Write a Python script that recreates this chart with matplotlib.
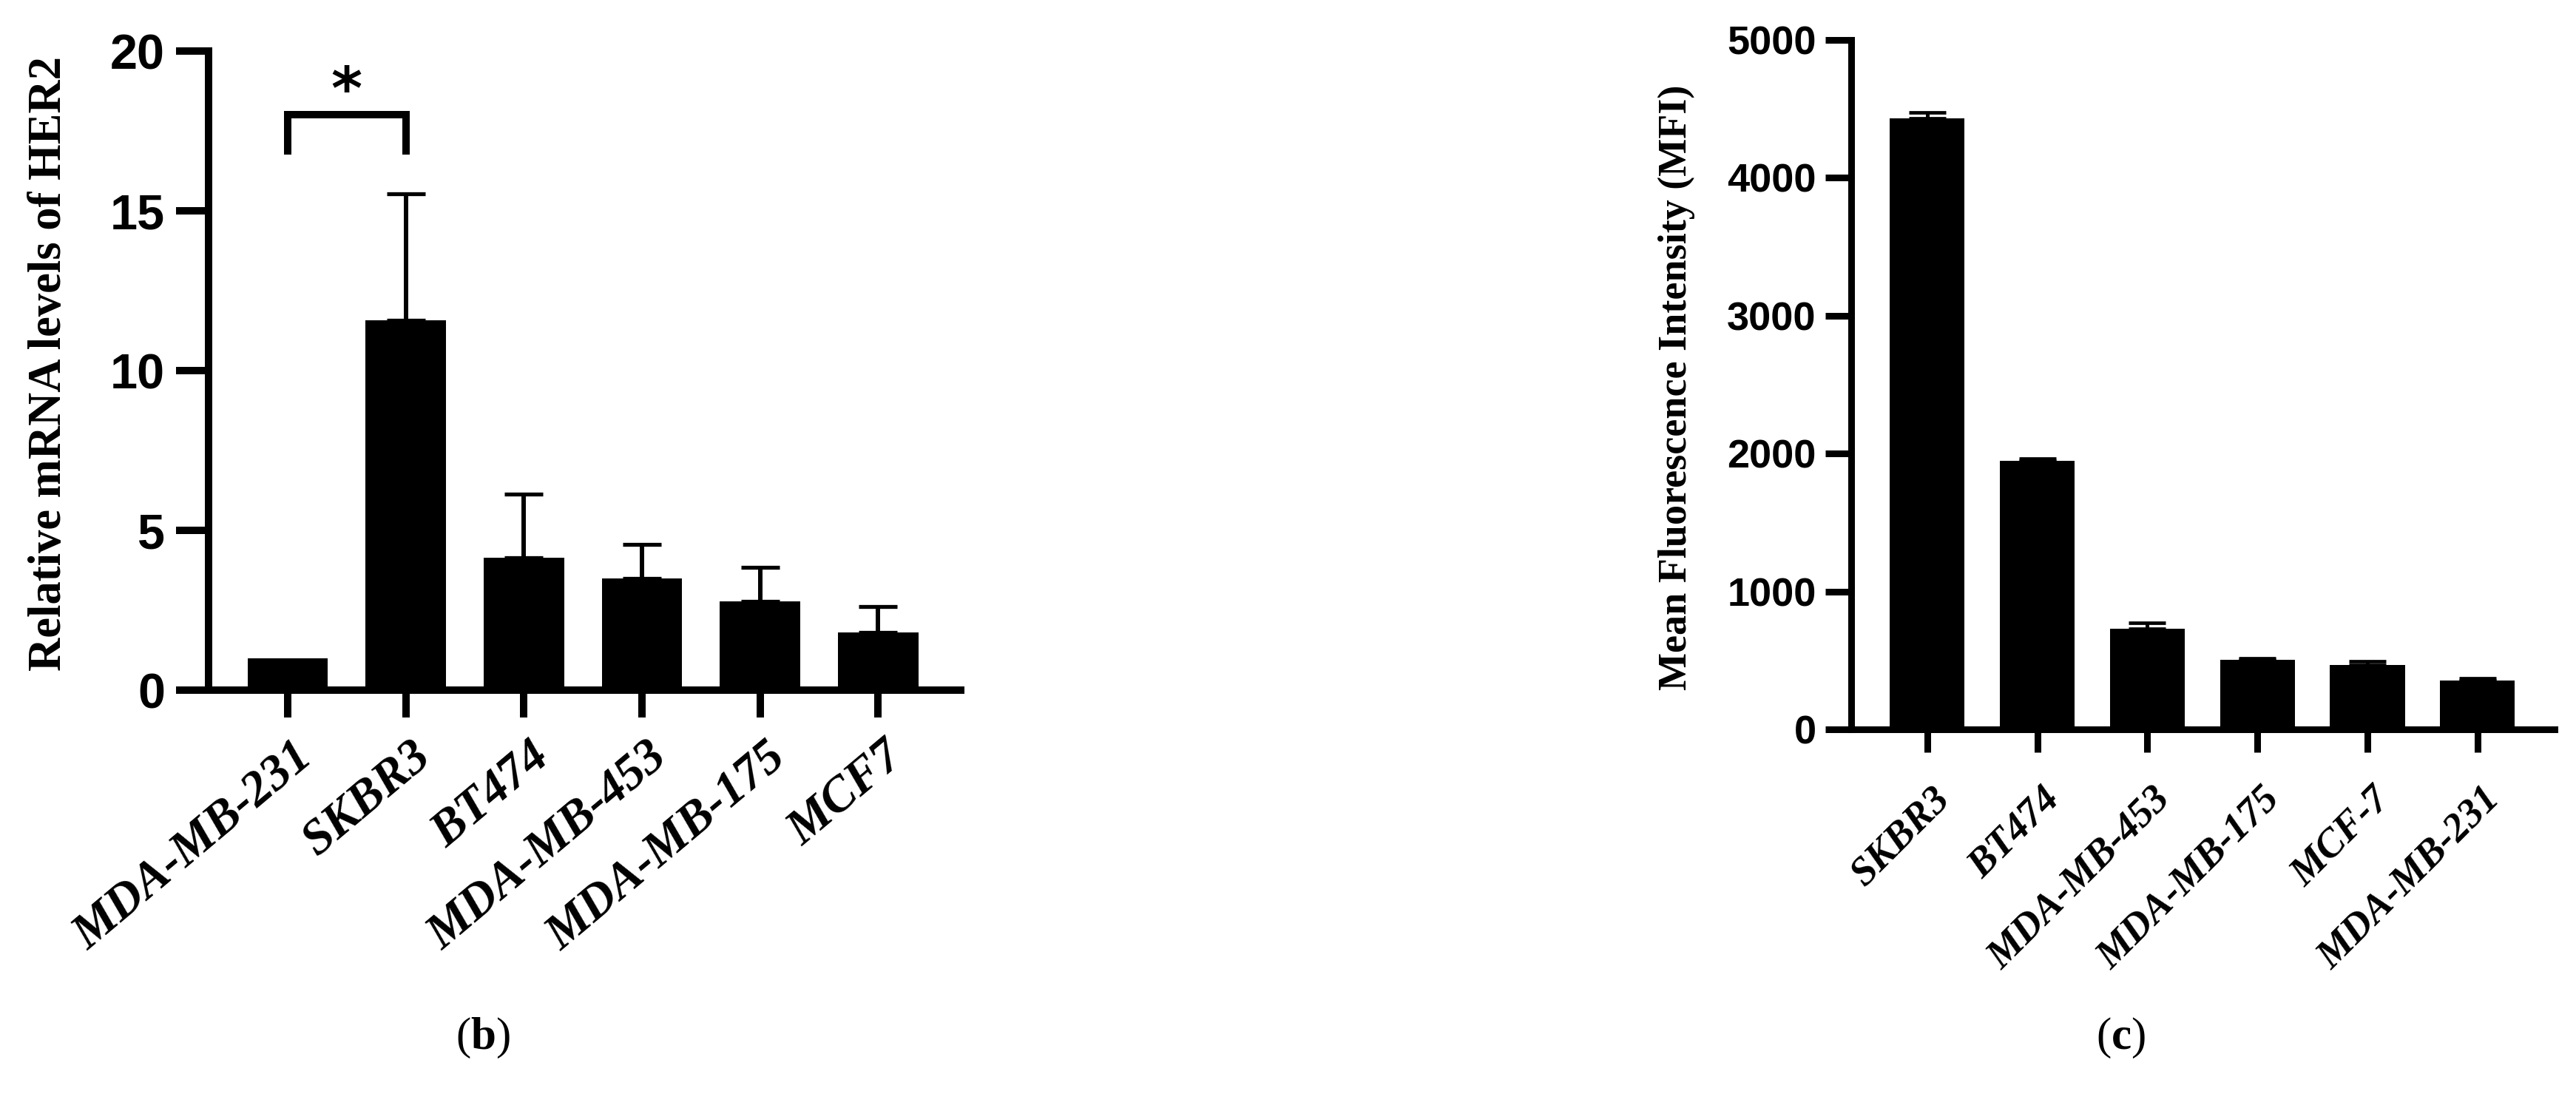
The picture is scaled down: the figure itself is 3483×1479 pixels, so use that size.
import matplotlib
matplotlib.use("Agg")
import matplotlib.pyplot as plt
import matplotlib.transforms as mtransforms
import numpy as np

# ---------------- data ----------------
left_categories = ["MDA-MB-231", "SKBR3", "BT474", "MDA-MB-453", "MDA-MB-175", "MCF7"]
left_means = [1.0, 11.57, 4.15, 3.5, 2.77, 1.8]
left_sd = [0.0, 3.97, 1.98, 1.05, 1.08, 0.81]
left_yticks = [0, 5, 10, 15, 20]
left_ylabel = "Relative mRNA levels of HER2"
sig_pair = (0, 1)
sig_text = "*"
sig_bracket = (16.75, 18.0)   # leg bottom, bracket top (data units)
sig_star_y = 18.7

right_categories = ["SKBR3", "BT474", "MDA-MB-453", "MDA-MB-175", "MCF-7", "MDA-MB-231"]
right_means = [4430, 1950, 730, 505, 465, 352]
right_sd = [45, 12, 40, 12, 28, 16]
right_yticks = [0, 1000, 2000, 3000, 4000, 5000]
right_ylabel = "Mean Fluorescence Intensity (MFI)"

panel_labels = ["b", "c"]

# ---------------- figure ----------------
W, H = 3483, 1479
DPI = 100
fig = plt.figure(figsize=(W / DPI, H / DPI), dpi=DPI)
plt.rcParams["mathtext.fontset"] = "custom"
plt.rcParams["mathtext.rm"] = "Liberation Serif"
plt.rcParams["mathtext.bf"] = "Liberation Serif:bold"


def px_axes(x0, x1, ytop, ybot):
    return fig.add_axes([x0 / W, 1 - ybot / H, (x1 - x0) / W, (ybot - ytop) / H])


def style_axes(ax, cats, lw, ytick_len, xtick_len, ytick_size, ytick_pad,
               xtick_size, xtick_pad, xoff, rot):
    for s in ["top", "right"]:
        ax.spines[s].set_visible(False)
    for s in ["left", "bottom"]:
        ax.spines[s].set_linewidth(lw)
        ax.spines[s].set_color("black")
        ax.spines[s].set_capstyle("projecting")
    ax.tick_params(axis="y", direction="out", length=ytick_len, width=lw, pad=ytick_pad)
    ax.tick_params(axis="x", direction="out", length=xtick_len, width=lw, pad=xtick_pad)
    ax.set_yticklabels([str(v) for v in ax.get_yticks()],
                       fontsize=ytick_size, fontweight="bold", family="Liberation Sans")
    labs = ax.set_xticklabels(cats, fontsize=xtick_size, fontweight="bold",
                              fontstyle="italic", family="Liberation Serif",
                              rotation=rot, rotation_mode="anchor", ha="right", va="top")
    for lab in labs:
        lab.set_transform(lab.get_transform() +
                          mtransforms.ScaledTranslation(xoff / 72, 0, fig.dpi_scale_trans))


# ---------------- left panel ----------------
axL = px_axes(282, 1299, 69, 933)
xL = np.arange(len(left_categories))
axL.bar(xL, left_means, width=0.68, color="black", zorder=2)
mask = [i for i, s in enumerate(left_sd) if s > 0]
axL.errorbar([xL[i] for i in mask], [left_means[i] for i in mask],
             yerr=[[0] * len(mask), [left_sd[i] for i in mask]],
             fmt="none", ecolor="black", elinewidth=4.3, capsize=19, capthick=3.8, zorder=1)
axL.set_xlim(-0.67, 5.70)
axL.set_ylim(0, 20)
axL.set_yticks(left_yticks)
axL.set_xticks(xL)
style_axes(axL, left_categories, 7.2, 31.5, 26.5, 48, 11, 48, 16, 5, 40)
# significance bracket
a, b = sig_pair
axL.plot([a, a, b, b], [sig_bracket[0], sig_bracket[1], sig_bracket[1], sig_bracket[0]],
         color="black", lw=7.2, solid_joinstyle="miter", solid_capstyle="butt", clip_on=False)
axL.text((a + b) / 2, sig_star_y, sig_text, ha="center", va="center", fontsize=58,
         fontweight="bold", family="DejaVu Sans")
fig.text(67 / W, 1 - 492 / H, left_ylabel, rotation=90, ha="center", va="center",
         fontsize=45, fontweight="bold", family="Liberation Serif")

# ---------------- right panel ----------------
axR = px_axes(2503, 3454, 54, 986)
xR = np.arange(len(right_categories))
axR.bar(xR, right_means, width=0.68, color="black", zorder=2)
axR.errorbar(xR, right_means, yerr=[[0] * len(xR), right_sd],
             fmt="none", ecolor="black", elinewidth=3.6, capsize=18, capthick=3.4, zorder=1)
axR.set_xlim(-0.69, 5.70)
axR.set_ylim(0, 5000)
axR.set_yticks(right_yticks)
axR.set_xticks(xR)
style_axes(axR, right_categories, 6.5, 25, 22, 39, 9, 39, 28, 4, 45)
fig.text(2267 / W, 1 - 524 / H, right_ylabel, rotation=90, ha="center", va="center",
         fontsize=39, fontweight="bold", family="Liberation Serif")

# ---------------- panel labels ----------------
for lab, xc in zip(panel_labels, [653, 2868]):
    fig.text(xc / W, 1 - 1403 / H, r"($\mathbf{%s}$)" % lab, ha="center", va="center",
             fontsize=44, family="Liberation Serif")

fig.savefig("out.png", dpi=DPI, facecolor="white")
